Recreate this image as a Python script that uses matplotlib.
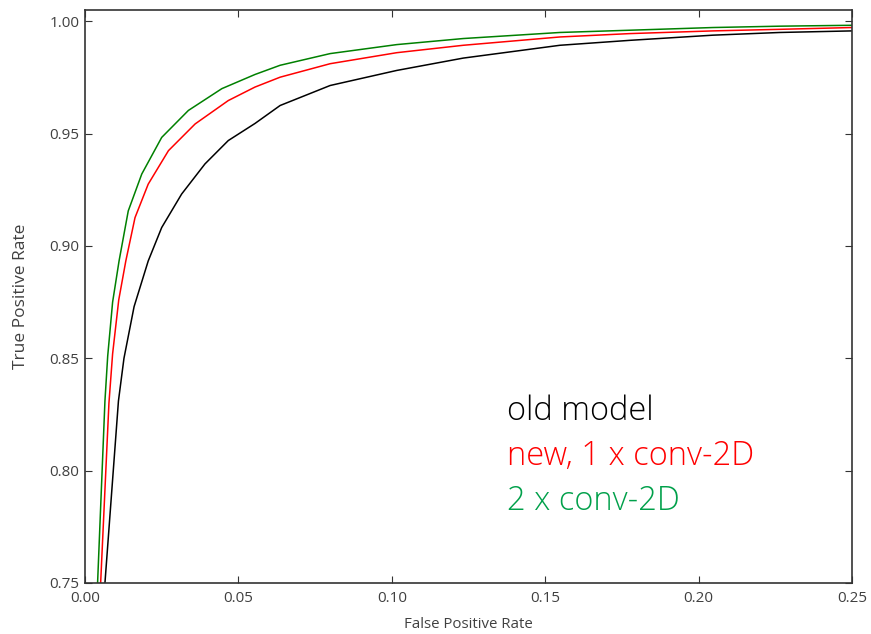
import matplotlib
matplotlib.use('Agg')
import matplotlib.pyplot as plt

# ROC points (false positive rate, true positive rate)
fpr_old = [0.0062, 0.0065, 0.0109, 0.0127, 0.0160, 0.0206, 0.0250, 0.0315, 0.0391,
           0.0467, 0.0554, 0.0636, 0.0799, 0.1016, 0.1233, 0.1548, 0.1776, 0.2047,
           0.2265, 0.25]
tpr_old = [0.740, 0.750, 0.831, 0.850, 0.873, 0.8933, 0.9082, 0.9231, 0.9365,
           0.9469, 0.9545, 0.9625, 0.9714, 0.9781, 0.9836, 0.9893, 0.9915, 0.9938,
           0.9950, 0.9957]

fpr_new1 = [0.0048, 0.0051, 0.0078, 0.0090, 0.0110, 0.0133, 0.0163, 0.0206, 0.0272,
            0.0359, 0.0467, 0.0554, 0.0636, 0.0799, 0.1016, 0.1233, 0.1548, 0.1776,
            0.2047, 0.2265, 0.25]
tpr_new1 = [0.740, 0.750, 0.830, 0.852, 0.876, 0.8933, 0.9126, 0.9275, 0.9424,
            0.9543, 0.9647, 0.9707, 0.9751, 0.9811, 0.9860, 0.9893, 0.9930, 0.9945,
            0.9957, 0.9964, 0.9972]

fpr_new2 = [0.0038, 0.0041, 0.0065, 0.0074, 0.0090, 0.0111, 0.0141, 0.0185, 0.0250,
            0.0337, 0.0446, 0.0554, 0.0636, 0.0799, 0.1016, 0.1233, 0.1548, 0.1776,
            0.2047, 0.2265, 0.25]
tpr_new2 = [0.740, 0.750, 0.831, 0.851, 0.875, 0.8933, 0.9156, 0.9320, 0.9483,
            0.9603, 0.9700, 0.9763, 0.9804, 0.9856, 0.9896, 0.9923, 0.9950, 0.9960,
            0.9972, 0.9978, 0.9982]

labels = ['old model', 'new, 1 x conv-2D', '2 x conv-2D']
line_colors = ['k', '#ff0000', '#008000']
text_colors = ['#000000', '#ff0000', '#00a04a']

plt.rcParams['font.family'] = ['Open Sans', 'DejaVu Sans']

fig = plt.figure(figsize=(8.71, 6.34), dpi=100, facecolor='w')
ax = fig.add_axes([85 / 871, 1 - 583 / 634, 767 / 871, 573 / 634])

for fpr, tpr, c in zip([fpr_old, fpr_new1, fpr_new2], [tpr_old, tpr_new1, tpr_new2], line_colors):
    ax.plot(fpr, tpr, color=c, linewidth=1.1)

ax.set_xlim(0, 0.25)
ax.set_ylim(0.75, 1.005)
ax.set_xticks([0.0, 0.05, 0.10, 0.15, 0.20, 0.25])
ax.set_yticks([0.75, 0.80, 0.85, 0.90, 0.95, 1.00])
ax.xaxis.set_major_formatter(matplotlib.ticker.FormatStrFormatter('%.2f'))
ax.yaxis.set_major_formatter(matplotlib.ticker.FormatStrFormatter('%.2f'))
ax.tick_params(direction='in', top=True, right=True, length=5, width=0.8,
               labelsize=11, colors='#333333', labelcolor='#404040')
ax.tick_params(axis='x', pad=6)
ax.tick_params(axis='y', pad=4)
for s in ax.spines.values():
    s.set_linewidth(1.2)
    s.set_color('#333333')

ax.set_xlabel('False Positive Rate', fontsize=10.8, color='#404040', labelpad=8)
ax.set_ylabel('True Positive Rate', fontsize=12.5, color='#404040', labelpad=15)

for i, (lab, c) in enumerate(zip(labels, text_colors)):
    ax.text(0.550, 0.2845 - i * 0.0785, lab, transform=ax.transAxes, color=c,
            fontsize=23.5, fontweight='light', va='baseline', ha='left')

fig.savefig('out.png', dpi=100, facecolor='w')
